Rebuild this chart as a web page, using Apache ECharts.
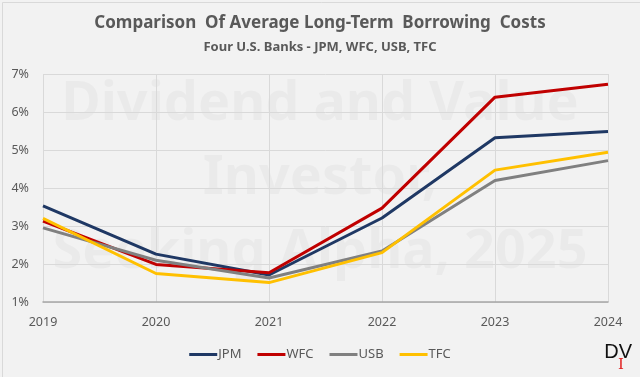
<!DOCTYPE html>
<html><head><meta charset="utf-8">
<script src="https://cdn.jsdelivr.net/npm/echarts@6/dist/echarts.min.js"></script>
<style>html,body{margin:0;padding:0;background:#F2F2F2}#c{width:640px;height:377px}</style>
</head><body><div id="c"></div>
<script>
const years = ['2019','2020','2021','2022','2023','2024'];
const jpm = [3.53, 2.26, 1.71, 3.21, 5.32, 5.49];
const wfc = [3.13, 1.99, 1.77, 3.47, 6.39, 6.73];
const usb = [2.95, 2.10, 1.63, 2.34, 4.20, 4.72];
const tfc = [3.20, 1.75, 1.51, 2.30, 4.47, 4.94];
const yTicks = ['1%','2%','3%','4%','5%','6%','7%'];

const font = 'Noto Sans';
const chart = echarts.init(document.getElementById('c'));
function s(name, data, color){
  return {name, type:'line', data, symbol:'none', lineStyle:{color, width:3}, itemStyle:{color}};
}
chart.setOption({
  backgroundColor:'#F2F2F2',
  animation:false,
  title:[
    {text:'Comparison  Of Average Long-Term  Borrowing  Costs', left:'center', top:10,
     textStyle:{fontFamily:font, fontSize:17, fontWeight:'bold', color:'#595959'}},
    {text:'Four U.S. Banks - JPM, WFC, USB, TFC', left:'center', top:36,
     textStyle:{fontFamily:font, fontSize:13, fontWeight:'bold', color:'#595959'}}
  ],
  graphic:[
    {type:'rect', left:0, top:0, shape:{width:639, height:376}, style:{fill:'none', stroke:'#D9D9D9', lineWidth:1}, silent:true},
    {type:'text', left:'center', top:68, z:0, style:{text:'Dividend and Value\nInvestor,\nSeeking Alpha, 2025', textAlign:'center', fontFamily:font, fontSize:54, fontWeight:'bold', lineHeight:74, fill:'rgba(0,0,0,0.03)'}},
    {type:'text', right:8, top:342, style:{text:'DV', fontFamily:'Liberation Sans', fontSize:20, fill:'#111'}},
    {type:'text', right:16, top:358, style:{text:'I', fontFamily:'DejaVu Serif', fontSize:15, fill:'#E02020'}}
  ],
  legend:{bottom:11, left:'center', itemWidth:28, itemHeight:3, itemGap:16,
    icon:'rect',
    textStyle:{fontFamily:font, fontSize:13, color:'#595959', padding:[0,0,0,-4]},
    data:['JPM','WFC','USB','TFC']},
  grid:{left:43, right:32, top:74, bottom:75},
  xAxis:{type:'category', data:years, boundaryGap:false,
    axisLine:{lineStyle:{color:'#A6A6A6', width:1.5}}, axisTick:{show:false},
    axisLabel:{fontFamily:font, fontSize:12.5, color:'#595959', margin:14},
    splitLine:{show:true, lineStyle:{color:'#D9D9D9'}}},
  yAxis:{type:'value', min:1, max:7, interval:1,
    axisLine:{show:false}, axisTick:{show:false},
    axisLabel:{fontFamily:font, fontSize:12.5, color:'#595959', margin:14, formatter:(v)=>yTicks[v-1]},
    splitLine:{lineStyle:{color:'#D9D9D9'}}},
  series:[s('JPM', jpm, '#1F3864'), s('WFC', wfc, '#C00000'), s('USB', usb, '#808080'), s('TFC', tfc, '#FFC000')]
});
</script></body></html>
